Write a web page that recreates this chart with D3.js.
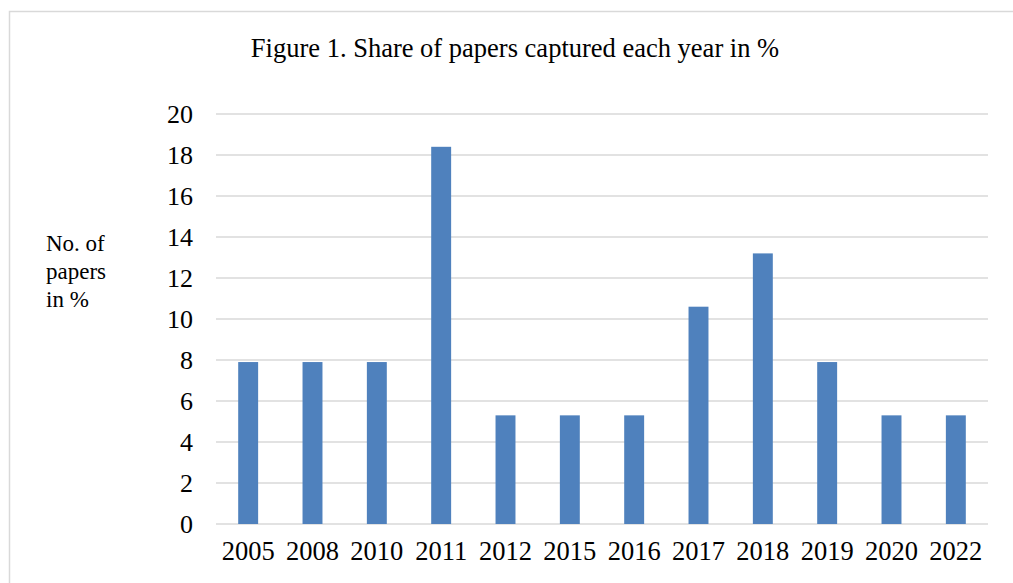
<!DOCTYPE html>
<html>
<head>
<meta charset="utf-8">
<script src="https://cdn.jsdelivr.net/npm/d3@7"></script>
<style>
  html, body { margin: 0; padding: 0; background: #fff; }
  svg { display: block; }
</style>
</head>
<body>
<svg id="chart" width="1013" height="583"></svg>
<script>
// Share of papers captured per year, in percent
const years = ["2005", "2008", "2010", "2011", "2012", "2015", "2016", "2017", "2018", "2019", "2020", "2022"];
const shares = [7.9, 7.9, 7.9, 18.4, 5.3, 5.3, 5.3, 10.6, 13.2, 7.9, 5.3, 5.3];
const yTicks = [0, 2, 4, 6, 8, 10, 12, 14, 16, 18, 20];
const titleText = "Figure 1. Share of papers captured each year in %";
const yLabelLines = ["No. of", "papers", "in %"];

const SERIF = "'Liberation Serif', 'Times New Roman', Times, serif";
const W = 1013, H = 583;
const margin = { left: 216, right: 25, top: 114, bottom: 59 };
const svg = d3.select("#chart");

// outer frame
svg.append("rect")
  .attr("x", 9.5).attr("y", 11.5)
  .attr("width", W + 20).attr("height", H + 20)
  .attr("fill", "none").attr("stroke", "#d9d9d9").attr("stroke-width", 1.5);

const x = d3.scaleBand()
  .domain(years)
  .range([margin.left, W - margin.right])
  .paddingInner(0.69).paddingOuter(0.345);

const y = d3.scaleLinear()
  .domain([0, 20])
  .range([H - margin.bottom, margin.top]);

// horizontal gridlines
svg.append("g")
  .selectAll("line")
  .data(yTicks)
  .join("line")
  .attr("x1", margin.left).attr("x2", W - margin.right)
  .attr("y1", d => y(d)).attr("y2", d => y(d))
  .attr("stroke", "#d9d9d9").attr("stroke-width", 1.5);

// y-axis tick labels
const yAxis = d3.axisLeft(y).tickValues(yTicks).tickSize(0).tickPadding(23);
const gy = svg.append("g").attr("transform", `translate(${margin.left},0)`).call(yAxis);
gy.select(".domain").remove();
gy.attr("font-family", null).attr("font-size", null);
gy.selectAll("text")
  .style("font-family", SERIF)
  .style("font-size", "26px").attr("fill", "#000");

// bars
svg.append("g")
  .selectAll("rect")
  .data(years.map((yr, i) => ({ yr, v: shares[i] })))
  .join("rect")
  .attr("x", d => x(d.yr))
  .attr("y", d => y(d.v))
  .attr("width", x.bandwidth())
  .attr("height", d => y(0) - y(d.v))
  .attr("fill", "#4f81bd");

// x-axis category labels
const xAxis = d3.axisBottom(x).tickSize(0).tickPadding(17);
const gx = svg.append("g").attr("transform", `translate(0,${y(0)})`).call(xAxis);
gx.select(".domain").remove();
gx.attr("font-family", null).attr("font-size", null);
gx.selectAll("text")
  .style("font-family", SERIF)
  .style("font-size", "26.5px").attr("fill", "#000");

// title
svg.append("text")
  .attr("x", 515).attr("y", 57)
  .attr("text-anchor", "middle")
  .style("font-family", SERIF)
  .style("font-size", "26.5px")
  .attr("fill", "#000")
  .text(titleText);

// y-axis caption
const cap = svg.append("text")
  .attr("x", 46).attr("y", 251)
  .style("font-family", SERIF)
  .style("font-size", "23px")
  .attr("fill", "#000");
cap.selectAll("tspan")
  .data(yLabelLines)
  .join("tspan")
  .attr("x", 46)
  .attr("dy", (d, i) => i === 0 ? 0 : 28)
  .text(d => d);
</script>
</body>
</html>
